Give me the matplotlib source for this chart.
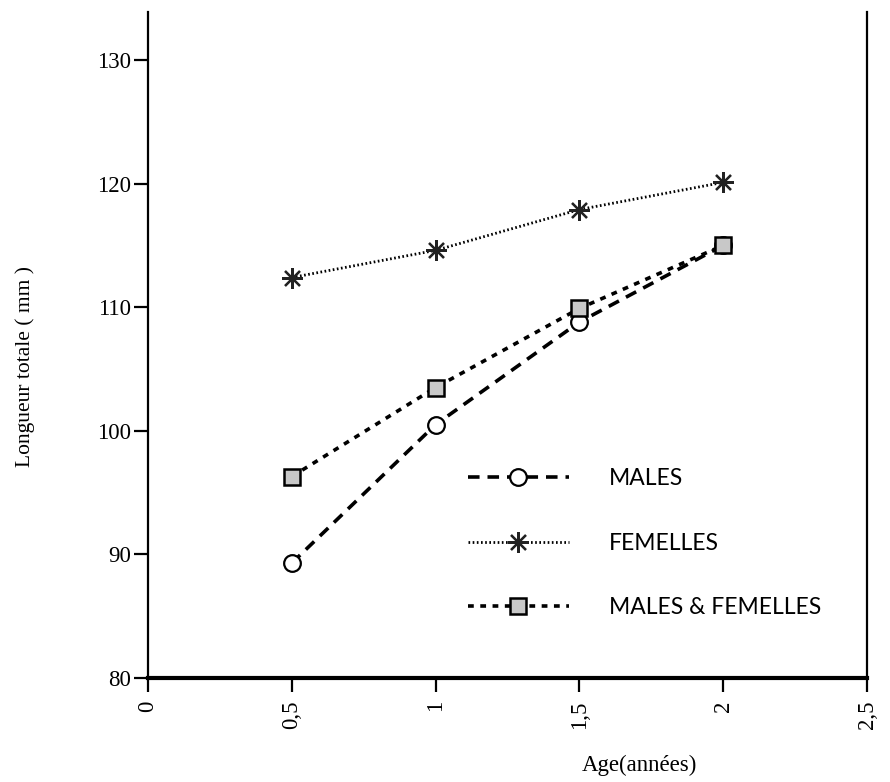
import matplotlib
matplotlib.use("Agg")
import matplotlib.pyplot as plt
from matplotlib.ticker import FuncFormatter

ages = [0.5, 1.0, 1.5, 2.0]
males = [89.3, 100.5, 108.8, 115.0]
femelles = [112.4, 114.6, 117.9, 120.1]
males_femelles = [96.3, 103.5, 109.9, 115.0]
labels = ["MALES", "FEMELLES", "MALES & FEMELLES"]
x_ticks = [0, 0.5, 1, 1.5, 2, 2.5]
y_ticks = [80, 90, 100, 110, 120, 130]

serif = ["Liberation Serif", "DejaVu Serif"]
fig = plt.figure(figsize=(8.9, 7.82), dpi=100)
ax = fig.add_axes([148/890, 1-678/782, 719/890, 666/782])

ax.plot(ages, males, color="black", lw=2.6, linestyle=(0, (3.2, 2.2)),
        marker="o", markersize=12, markerfacecolor="white",
        markeredgecolor="black", markeredgewidth=1.6, label=labels[0])
ax.plot(ages, femelles, color="black", lw=2.0, linestyle=(0, (0.6, 0.9)),
        marker=(8, 2, 0), markersize=15, markeredgecolor="#222222",
        markeredgewidth=1.6, label=labels[1])
ax.plot(ages, males_femelles, color="black", lw=2.6, linestyle=(0, (1.6, 1.8)),
        marker="s", markersize=12, markerfacecolor="#c8c8c8",
        markeredgecolor="black", markeredgewidth=1.8, label=labels[2])

ax.set_xlim(0, 2.5)
ax.set_ylim(80, 80 + 666/12.36)
ax.set_xticks(x_ticks)
ax.set_yticks(y_ticks)
ax.xaxis.set_major_formatter(FuncFormatter(lambda v, p: ("%g" % v).replace(".", ",")))

ax.spines["top"].set_visible(False)
ax.spines["left"].set_linewidth(1.6)
ax.spines["right"].set_linewidth(1.6)
ax.spines["bottom"].set_linewidth(3.0)
ax.tick_params(axis="y", direction="out", length=10, width=1.6, pad=2,
               labelsize=16.5)
ax.tick_params(axis="x", direction="out", length=10, width=1.6, pad=6,
               labelsize=16.5, labelrotation=90)
for t in ax.get_xticklabels() + ax.get_yticklabels():
    t.set_fontfamily(serif)

ax.set_ylabel("Longueur totale ( mm )", fontsize=15.5, family=serif)
ax.yaxis.set_label_coords(-0.157, 0.468)
ax.set_xlabel("Age(années)", fontsize=16.5, family=serif)
ax.xaxis.set_label_coords(0.684, -0.115)

leg = ax.legend(loc="upper left", bbox_to_anchor=(0.445, 0.315), frameon=False,
                numpoints=1, handlelength=4.4, handletextpad=1.75,
                labelspacing=1.9, borderpad=0, borderaxespad=0,
                prop={"family": ["Lato", "DejaVu Sans"], "size": 16.5})

fig.savefig("out.png", dpi=100, facecolor="white")
